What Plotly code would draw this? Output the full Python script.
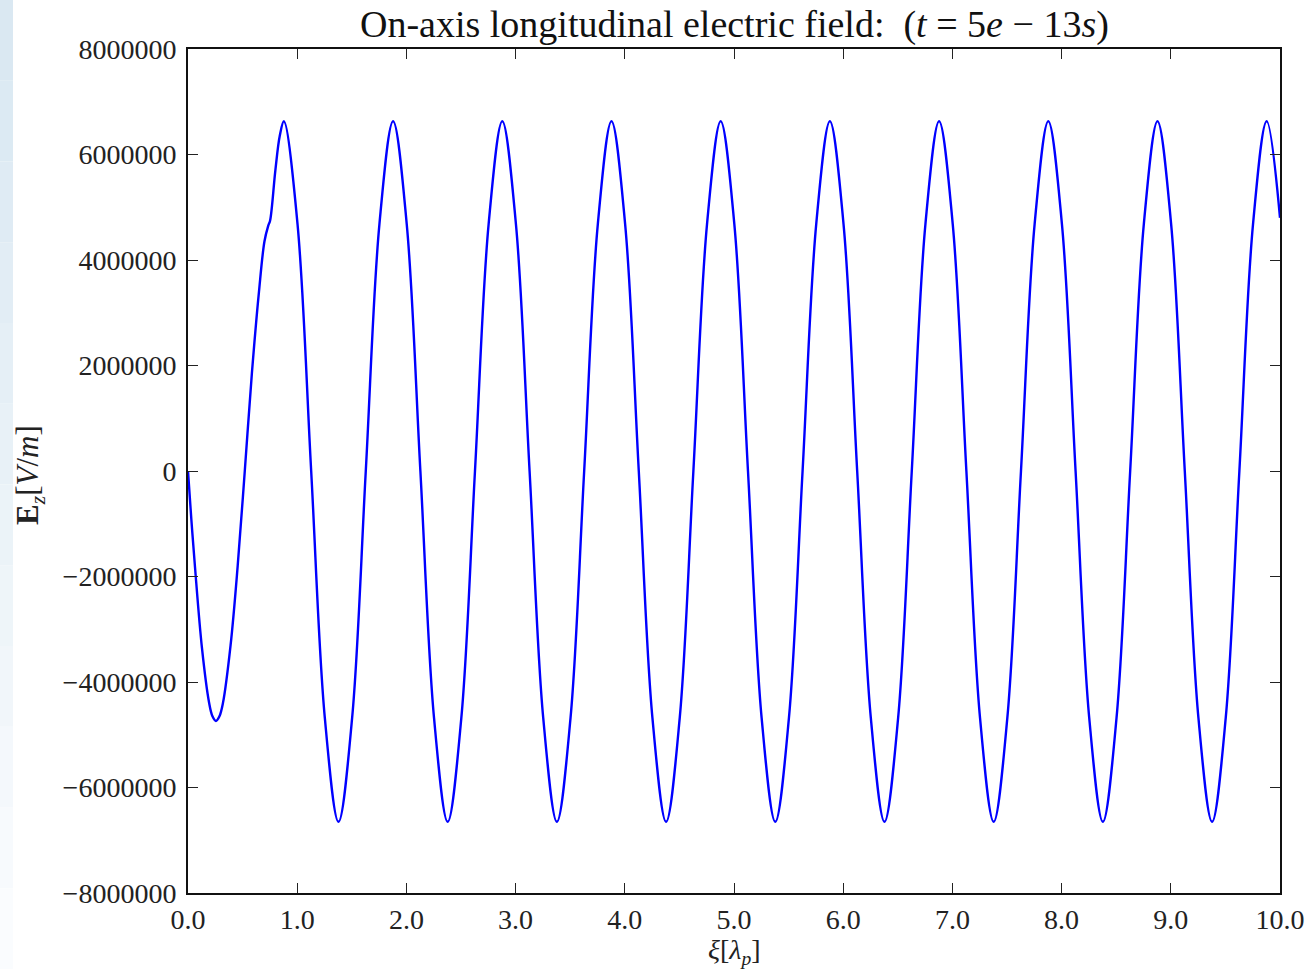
import plotly.graph_objects as go

# xi in units of plasma wavelength
xi = [
    0.0, 0.03, 0.064, 0.128, 0.192, 0.224, 0.256, 0.288, 0.32, 0.39, 0.455, 0.52,
    0.585, 0.65, 0.70, 0.735, 0.752, 0.80, 0.84, 0.878,
    1.003, 1.128, 1.253, 1.378, 1.503, 1.628, 1.753, 1.878,
    2.003, 2.128, 2.253, 2.378, 2.503, 2.628, 2.753, 2.878,
    3.003, 3.128, 3.253, 3.378, 3.503, 3.628, 3.753, 3.878,
    4.003, 4.128, 4.253, 4.378, 4.503, 4.628, 4.753, 4.878,
    5.003, 5.128, 5.253, 5.378, 5.503, 5.628, 5.753, 5.878,
    6.003, 6.128, 6.253, 6.378, 6.503, 6.628, 6.753, 6.878,
    7.003, 7.128, 7.253, 7.378, 7.503, 7.628, 7.753, 7.878,
    8.003, 8.128, 8.253, 8.378, 8.503, 8.628, 8.753, 8.878,
    9.003, 9.128, 9.253, 9.378, 9.503, 9.628, 9.753, 9.878,
    10.0,
]

# on-axis longitudinal field Ez [V/m]
ez = [
    0.0, -0.9e6, -1.82e6, -3.36e6, -4.38e6, -4.65e6, -4.74e6, -4.65e6, -4.4e6, -3.3e6, -1.8e6, 0.0,
    1.85e6, 3.4e6, 4.35e6, 4.65e6, 4.75e6, 5.7e6, 6.35e6, 6.63e6,
    4.68e6, 0.0, -4.68e6, -6.65e6, -4.68e6, 0.0, 4.68e6, 6.63e6,
    4.68e6, 0.0, -4.68e6, -6.65e6, -4.68e6, 0.0, 4.68e6, 6.63e6,
    4.68e6, 0.0, -4.68e6, -6.65e6, -4.68e6, 0.0, 4.68e6, 6.63e6,
    4.68e6, 0.0, -4.68e6, -6.65e6, -4.68e6, 0.0, 4.68e6, 6.63e6,
    4.68e6, 0.0, -4.68e6, -6.65e6, -4.68e6, 0.0, 4.68e6, 6.63e6,
    4.68e6, 0.0, -4.68e6, -6.65e6, -4.68e6, 0.0, 4.68e6, 6.63e6,
    4.68e6, 0.0, -4.68e6, -6.65e6, -4.68e6, 0.0, 4.68e6, 6.63e6,
    4.68e6, 0.0, -4.68e6, -6.65e6, -4.68e6, 0.0, 4.68e6, 6.63e6,
    4.68e6, 0.0, -4.68e6, -6.65e6, -4.68e6, 0.0, 4.68e6, 6.63e6,
    4.80e6,
]

x_ticks = [0, 1, 2, 3, 4, 5, 6, 7, 8, 9, 10]
x_tick_text = ["0.0", "1.0", "2.0", "3.0", "4.0", "5.0", "6.0", "7.0", "8.0", "9.0", "10.0"]
y_ticks = [-8e6, -6e6, -4e6, -2e6, 0, 2e6, 4e6, 6e6, 8e6]
y_tick_text = ["\u22128000000", "\u22126000000", "\u22124000000", "\u22122000000", "0",
               "2000000", "4000000", "6000000", "8000000"]

FONT = "Liberation Serif"

fig = go.Figure()
fig.add_trace(go.Scatter(
    x=xi, y=ez, mode="lines",
    line=dict(color="#0000ff", width=2.4, shape="spline", smoothing=1.0),
    hoverinfo="skip", showlegend=False,
))

# left slide background strip (light blue gradient)
strip_cols = ["#dae8f2", "#dceaf3", "#dfebf4", "#e2edf5", "#e5eff6", "#e8f1f7",
              "#ebf3f8", "#eef5f9", "#f1f6fa", "#f4f8fc", "#f7fafd", "#fafcfe"]
shapes = []
n = len(strip_cols)
for i, c in enumerate(strip_cols):
    shapes.append(dict(
        type="rect", xref="paper", yref="paper",
        x0=(0 - 188) / 1092, x1=(13 - 188) / 1092,
        y0=(893 - 969 * (i + 1) / n) / 844, y1=(893 - 969 * i / n) / 844,
        fillcolor=c, line=dict(width=0), layer="below",
    ))

axis_common = dict(
    showline=True, linecolor="#111111", linewidth=2, mirror="ticks",
    ticks="inside", ticklen=10, tickwidth=1, tickcolor="#222222",
    showgrid=False, zeroline=False, automargin=False,
    tickfont=dict(family=FONT, size=28, color="#222222"),
)

fig.update_layout(
    template="none",
    width=1309, height=969,
    margin=dict(l=188, r=29, t=49, b=76, pad=0),
    paper_bgcolor="white", plot_bgcolor="white",
    shapes=shapes,
    xaxis=dict(range=[0, 10], tickmode="array", tickvals=x_ticks, ticktext=x_tick_text,
               ticklabelstandoff=0, **axis_common),
    yaxis=dict(range=[-8e6, 8e6], tickmode="array", tickvals=y_ticks, ticktext=y_tick_text,
               ticklabelstandoff=4, **axis_common),
    annotations=[
        dict(text="On-axis longitudinal electric field:  (<i>t</i> = 5<i>e</i> \u2212 13<i>s</i>)",
             xref="paper", yref="paper", x=0.5, y=(893 - 24) / 844,
             xanchor="center", yanchor="middle", showarrow=False,
             font=dict(family=FONT, size=38, color="#111111")),
        dict(text="<i>\u03be</i>[<i>\u03bb</i><sub><i>p</i></sub>]",
             xref="paper", yref="paper", x=0.5, y=(893 - 951) / 844,
             xanchor="center", yanchor="middle", showarrow=False,
             font=dict(family=FONT, size=28, color="#222222")),
        dict(text="<b>E</b><sub><i>z</i></sub>[<i>V</i>/<i>m</i>]",
             xref="paper", yref="paper", x=(30 - 188) / 1092, y=(893 - 475) / 844,
             xanchor="center", yanchor="middle", textangle=-90, showarrow=False,
             font=dict(family=FONT, size=31, color="#222222")),
    ],
)

fig.write_html("out.html")
